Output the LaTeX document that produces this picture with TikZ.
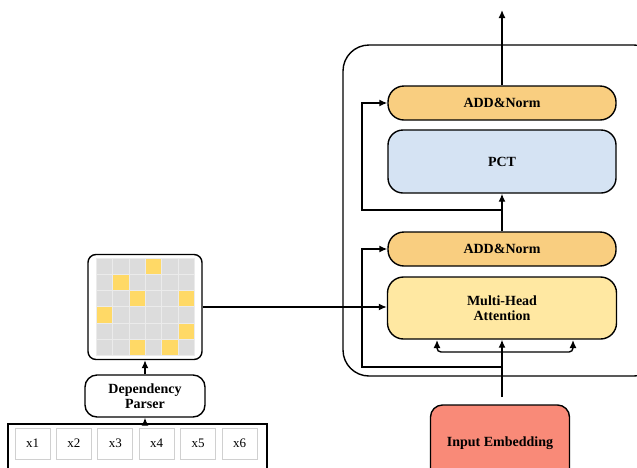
\documentclass[tikz,border=0pt]{standalone}
\usepackage{fontspec}
\setmainfont{Liberation Serif}
\usetikzlibrary{arrows.meta,positioning}

\definecolor{addorange}{HTML}{F9CE80}
\definecolor{pctblue}{HTML}{D5E3F3}
\definecolor{mhayellow}{HTML}{FFE8A2}
\definecolor{embedred}{HTML}{F98A78}
\definecolor{cellgray}{HTML}{DCDCDC}
\definecolor{cellline}{HTML}{EBEBEB}
\definecolor{cellhit}{HTML}{FFD966}
\definecolor{tokline}{HTML}{D0D0D0}

\begin{document}
\begin{tikzpicture}[x=1pt,y=-1pt,line width=1.4pt,
    block/.style={draw,font=\fontsize{14pt}{15.5pt}\selectfont\bfseries,align=center,inner sep=0pt},
    addnorm/.style={block,fill=addorange,minimum width=228pt,minimum height=34pt,rounded corners=16pt},
    tok/.style={draw=tokline,line width=1pt,minimum width=35pt,minimum height=31pt,
      font=\fontsize{13pt}{15pt}\selectfont,inner sep=0pt},
    arr/.style={-{Latex[length=8pt,width=7pt]}}]
      \clip (0,0) rectangle (637,467);

      % encoder block
      \draw[rounded corners=26pt] (343,45) rectangle (660,376);

      \node[addnorm] (addT) at (502,103) {ADD\&Norm};
      \node[block,fill=pctblue,minimum width=228pt,minimum height=63pt,rounded corners=15pt]
        (pct) at (502,161.5) {PCT};
      \node[addnorm] (addB) at (502,249) {ADD\&Norm};
      \node[block,fill=mhayellow,minimum width=229pt,minimum height=62pt,rounded corners=16pt]
        (mha) at (502,308) {Multi-Head\\Attention};
      \node[block,fill=embedred,minimum width=139pt,minimum height=76pt,rounded corners=12pt]
        (embed) at (500,443) {Input Embedding};

      \coordinate (out) at (502,10);
      \coordinate (in) at (502,397);
      \coordinate (s1) at (502,210);
      \coordinate (s2) at (502,367);
      \coordinate (s3) at (502,352);
      \coordinate (qL) at (437,340);
      \coordinate (qR) at (573,340);

      \draw[arr] (addT.north) -- (out);
      \draw[arr] (addB.north) -- (pct.south);
      \draw[arr] (s1) -- ++(-140,0) |- (addT.west);
      \draw[arr] (in) -- (mha.south);
      \draw[arr,rounded corners=4pt] (s3) -| (qL);
      \draw[arr,rounded corners=4pt] (s3) -| (qR);
      \draw[arr] (s2) -- ++(-140,0) |- (addB.west);

      % dependency matrix
      \node[draw,rounded corners=8pt,minimum width=114pt,minimum height=105pt] (mat) at (145,307) {};
      \foreach \r in {0,...,5}
        \foreach \c in {0,...,5}
          \filldraw[fill=cellgray,draw=cellline,line width=1pt]
            (96.5+16.33*\c,258+16.33*\r) rectangle ++(16.33,16.33);
      \foreach \r/\c in {0/3,1/1,2/2,2/5,3/0,4/5,5/2,5/4}
        \filldraw[fill=cellhit,draw=cellline,line width=1pt]
          (96.5+16.33*\c,258+16.33*\r) rectangle ++(16.33,16.33);
      \draw[arr] (mat.east) -- (mat.east -| mha.west);

      \node[block,minimum width=120pt,minimum height=42pt,rounded corners=12pt]
        (parser) at (145,396) {Dependency\\Parser};
      \draw[arr] (parser.north) -- (mat.south);

      % input tokens
      \draw (8,424) rectangle (267,480);
      \coordinate (tokTop) at (145,424);
      \foreach \i in {1,...,6}
        \node[tok] (x\i) at (-8.9+41.4*\i,443.5) {x\i};
      \draw[arr] (tokTop) -- (parser.south);
\end{tikzpicture}
\end{document}
